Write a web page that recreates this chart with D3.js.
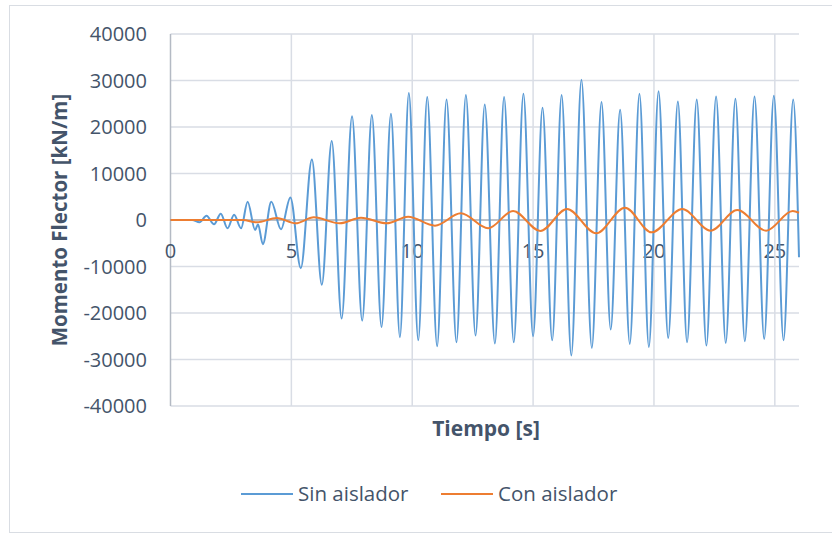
<!DOCTYPE html>
<html lang="es">
<head>
    <meta charset="UTF-8">
    <title>Momento Flector</title>
    <script src="https://d3js.org/d3.v7.min.js"></script>
    <style>
        body { margin: 0; background: #fff; }
        text { font-family: "Open Sans", "Noto Sans", sans-serif; fill: #44546a; }
    </style>
</head>
<body>
    <svg id="chart"></svg>

    <script>
        // Tick values
        const xTicks = [0, 5, 10, 15, 20, 25];
        const yTicks = [-40000, -30000, -20000, -10000, 0, 10000, 20000, 30000, 40000];

        // "Sin aislador": time [s] and value at each peak / trough
        const sinTime = [0, 0.9, 1.2, 1.49, 1.8, 2.08, 2.36, 2.63, 2.92, 3.19, 3.5, 3.62, 3.82, 4.17, 4.57, 4.96, 5.39, 5.85, 6.26, 6.67, 7.08, 7.51, 7.93, 8.33, 8.73, 9.12, 9.49, 9.86, 10.25, 10.62, 11.03, 11.42, 11.83, 12.22, 12.62, 13.0, 13.42, 13.8, 14.2, 14.6, 15.0, 15.39, 15.79, 16.18, 16.58, 17.0, 17.43, 17.83, 18.21, 18.6, 19.0, 19.4, 19.79, 20.19, 20.59, 20.99, 21.37, 21.77, 22.17, 22.57, 22.97, 23.37, 23.76, 24.16, 24.56, 24.96, 25.36, 25.76, 26.0];
        const sinValue = [0, 0, -500, 930, -930, 1360, -1790, 1140, -1790, 3930, -2140, -900, -5210, 3930, -2000, 4860, -10360, 13000, -13930, 17000, -21200, 22290, -21640, 22570, -23000, 22860, -25210, 27290, -25860, 26430, -27140, 25930, -26290, 26860, -24860, 24860, -26570, 26430, -26290, 27140, -25000, 24140, -25860, 26860, -29140, 30140, -27500, 25360, -23570, 23710, -26640, 27140, -27290, 27710, -25360, 25500, -26290, 25930, -27000, 26570, -26430, 26070, -26070, 26570, -25570, 26710, -25860, 25930, -8000];

        // "Con aislador"
        const conTime = [0, 3.0, 3.57, 4.4, 5.17, 5.93, 7.0, 7.88, 8.94, 9.83, 10.94, 12.01, 13.14, 14.17, 15.3, 16.4, 17.61, 18.8, 19.9, 21.17, 22.34, 23.45, 24.64, 25.74, 26.0];
        const conValue = [0, 0, -500, 430, -710, 570, -710, 500, -710, 710, -1210, 1430, -1790, 1930, -2360, 2360, -2860, 2640, -2640, 2360, -2290, 2140, -2290, 1930, 1570];

        const seriesNames = ["Sin aislador", "Con aislador"];
        const colors = ["#5b9bd5", "#ed7d31"];

        const W = 832, H = 534;
        const margin = { top: 34, right: 33, bottom: 128, left: 170.5 };

        const svg = d3.select("#chart").attr("width", W).attr("height", H);

        // outer chart border
        svg.append("rect")
            .attr("x", 9.5).attr("y", 5.5)
            .attr("width", W).attr("height", 527)
            .attr("fill", "#fff").attr("stroke", "#d9dde3");

        const x = d3.scaleLinear().domain([0, 26]).range([margin.left, W - margin.right]);
        const y = d3.scaleLinear().domain([-40000, 40000]).range([H - margin.bottom, margin.top]);

        // horizontal gridlines
        svg.append("g")
            .selectAll("line")
            .data(yTicks)
            .join("line")
            .attr("x1", x(0)).attr("x2", x(26))
            .attr("y1", d => y(d)).attr("y2", d => y(d))
            .attr("stroke", d => d === 0 ? "#a6acb6" : "#d9dde5")
            .attr("stroke-width", 1.5);

        // vertical gridlines
        svg.append("g")
            .selectAll("line")
            .data(xTicks.slice(1))
            .join("line")
            .attr("x1", d => x(d)).attr("x2", d => x(d))
            .attr("y1", y(40000)).attr("y2", y(-40000))
            .attr("stroke", "#d9dde5")
            .attr("stroke-width", 1.5);

        // left axis line
        svg.append("line")
            .attr("x1", x(0)).attr("x2", x(0))
            .attr("y1", y(40000)).attr("y2", y(-40000))
            .attr("stroke", "#b4bac4").attr("stroke-width", 1.5);

        // y tick labels
        svg.append("g")
            .selectAll("text")
            .data(yTicks)
            .join("text")
            .attr("x", 147).attr("y", d => y(d))
            .attr("dy", "0.36em")
            .attr("text-anchor", "end")
            .style("font-size", "20px")
            .text(d => d);

        // x tick labels (sitting under the zero line)
        svg.append("g")
            .selectAll("text")
            .data(xTicks)
            .join("text")
            .attr("x", d => x(d)).attr("y", y(0) + 38)
            .attr("text-anchor", "middle")
            .style("font-size", "20px")
            .text(d => d);

        // axis titles
        svg.append("text")
            .attr("transform", `translate(67, ${y(0)}) rotate(-90)`)
            .attr("text-anchor", "middle")
            .style("font-size", "20.5px").style("font-weight", "bold")
            .text("Momento Flector [kN/m]");

        svg.append("text")
            .attr("x", 486).attr("y", 436)
            .attr("text-anchor", "middle")
            .style("font-size", "21px").style("font-weight", "bold")
            .text("Tiempo [s]");

        // lines
        const line = d3.line()
            .x(d => x(d[0]))
            .y(d => y(d[1]))
            .curve(d3.curveMonotoneX);

        const sinData = sinTime.map((t, i) => [t, sinValue[i]]);
        const conData = conTime.map((t, i) => [t, conValue[i]]);

        svg.append("path")
            .datum(sinData)
            .attr("d", line)
            .attr("fill", "none")
            .attr("stroke", colors[0])
            .attr("stroke-width", 2);

        svg.append("path")
            .datum(conData)
            .attr("d", line)
            .attr("fill", "none")
            .attr("stroke", colors[1])
            .attr("stroke-width", 2);

        // legend
        const legend = svg.append("g")
            .selectAll("g")
            .data(seriesNames)
            .join("g")
            .attr("transform", (d, i) => `translate(${241 + i * 200}, 494)`);

        legend.append("line")
            .attr("x1", 0).attr("x2", 52)
            .attr("stroke", (d, i) => colors[i])
            .attr("stroke-width", 2);

        legend.append("text")
            .attr("x", 57).attr("dy", "0.36em")
            .style("font-size", "20.5px")
            .text(d => d);
    </script>
</body>
</html>
